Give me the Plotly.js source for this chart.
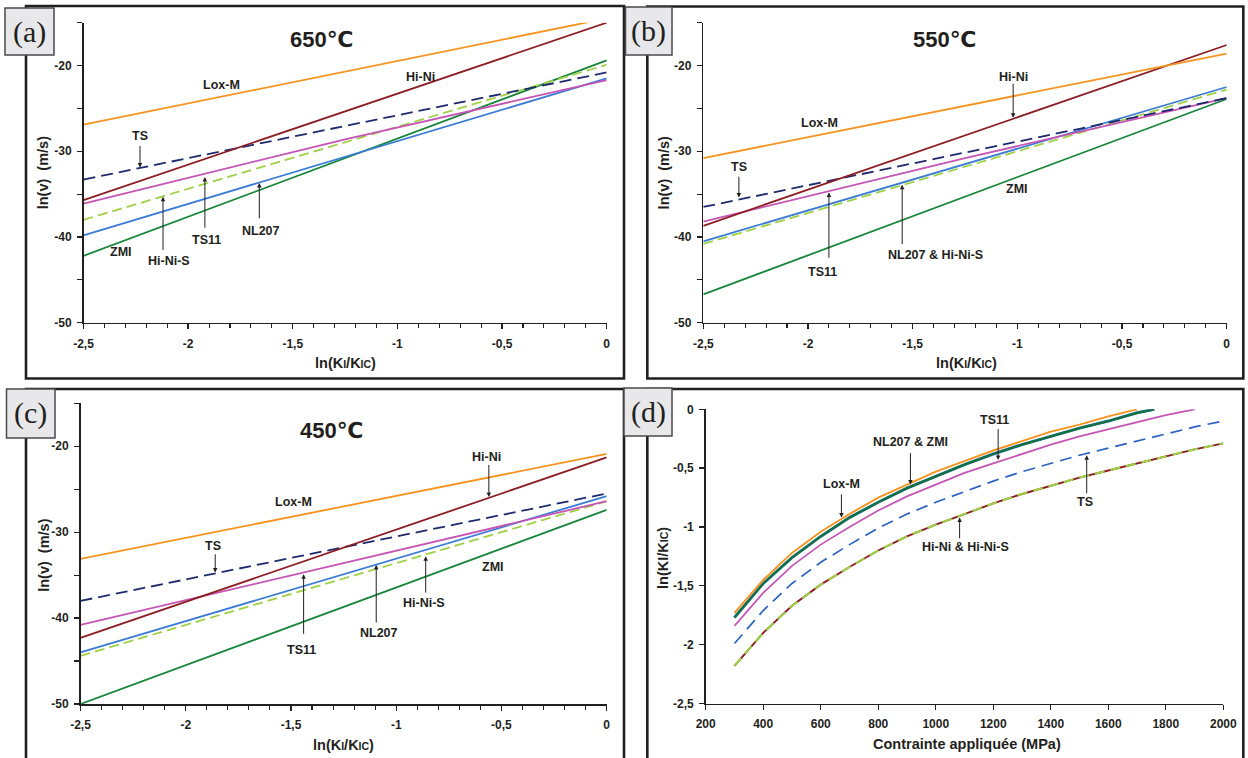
<!DOCTYPE html>
<html>
<head>
<meta charset="utf-8">
<script src="https://cdn.plot.ly/plotly-3.0.1.min.js"></script>
<style>html,body{margin:0;padding:0;background:#fff;}#chart{width:1248px;height:758px;}</style>
</head>
<body>
<div id="chart"></div>
<script>
// ---------- DATA ----------
// Panels (a)-(c): ln(v) vs ln(KI/KIC)
const lnK = [-2.5, -1.25, 0];

// (a) 650 °C
const a_LoxM  = [-26.9, -20.7, -14.5];
const a_HiNi  = [-35.7, -25.35, -15.0];
const a_TS    = [-33.3, -27.05, -20.8];
const a_TS11  = [-36.1, -28.6, -21.7];
const a_HiNiS = [-38.0, -28.95, -19.9];
const a_NL207 = [-39.8, -30.65, -21.5];
const a_ZMI   = [-42.2, -30.8, -19.4];

// (b) 550 °C
const b_LoxM  = [-30.8, -24.7, -18.6];
const b_HiNi  = [-38.7, -28.15, -17.6];
const b_TS    = [-36.5, -30.15, -23.8];
const b_TS11  = [-38.2, -30.8, -23.8];
const b_HiNiS = [-40.8, -31.8, -22.8];
const b_NL207 = [-40.5, -31.5, -22.5];
const b_ZMI   = [-46.7, -35.3, -23.9];

// (c) 450 °C
const c_LoxM  = [-33.1, -27.0, -20.9];
const c_HiNi  = [-42.3, -31.8, -21.3];
const c_TS    = [-38.0, -31.75, -25.5];
const c_TS11  = [-40.8, -33.6, -26.4];
const c_HiNiS = [-44.4, -35.4, -26.4];
const c_NL207 = [-44.0, -34.9, -25.8];
const c_ZMI   = [-50.0, -38.7, -27.4];

// (d) ln(KI/KIC) vs applied stress (MPa)
const d_stressLoxM = [300,400,500,600,700,800,900,1000,1100,1200,1300,1400,1500,1600,1700];
const d_LoxM       = [-1.73,-1.45,-1.22,-1.04,-0.89,-0.75,-0.64,-0.53,-0.44,-0.35,-0.27,-0.19,-0.13,-0.06,0];
const d_stressZMI  = [300,400,500,600,700,800,900,1000,1100,1200,1300,1400,1500,1600,1700,1760];
const d_ZMI        = [-1.77,-1.48,-1.26,-1.08,-0.92,-0.79,-0.67,-0.57,-0.47,-0.38,-0.30,-0.23,-0.16,-0.10,-0.03,0];
const d_NL207      = [-1.77,-1.48,-1.26,-1.08,-0.92,-0.79,-0.67,-0.57,-0.47,-0.38,-0.30,-0.23,-0.16,-0.10,-0.03,0];
const d_stressTS11 = [300,400,500,600,700,800,900,1000,1100,1200,1300,1400,1500,1600,1700,1800,1900];
const d_TS11       = [-1.84,-1.56,-1.33,-1.15,-1.00,-0.86,-0.74,-0.64,-0.54,-0.46,-0.38,-0.30,-0.23,-0.17,-0.11,-0.05,0];
const d_stress     = [300,400,500,600,700,800,900,1000,1100,1200,1300,1400,1500,1600,1700,1800,1900,2000];
const d_TS         = [-1.99,-1.71,-1.48,-1.30,-1.15,-1.01,-0.89,-0.79,-0.70,-0.61,-0.53,-0.46,-0.39,-0.33,-0.27,-0.21,-0.15,-0.10];
const d_HiNi       = [-2.18,-1.90,-1.67,-1.49,-1.34,-1.20,-1.08,-0.98,-0.89,-0.80,-0.72,-0.65,-0.58,-0.52,-0.46,-0.40,-0.34,-0.29];
const d_HiNiS      = [-2.18,-1.90,-1.67,-1.49,-1.34,-1.20,-1.08,-0.98,-0.89,-0.80,-0.72,-0.65,-0.58,-0.52,-0.46,-0.40,-0.34,-0.29];

// Tick labels
const kTickVals = [-2.5, -2, -1.5, -1, -0.5, 0];
const kTickText = ['-2,5', '-2', '-1,5', '-1', '-0,5', '0'];
const vTickVals = [-20, -30, -40, -50];
const vTickText = ['-20', '-30', '-40', '-50'];
const sTickVals = [200,400,600,800,1000,1200,1400,1600,1800,2000];
const sTickText = ['200','400','600','800','1000','1200','1400','1600','1800','2000'];
const dyTickVals = [0,-0.5,-1,-1.5,-2,-2.5];
const dyTickText = ['0','-0,5','-1','-1,5','-2','-2,5'];

const panelLabels = ['(a)', '(b)', '(c)', '(d)'];
const panelTitles = ['650℃', '550℃', '450℃'];

// ---------- STYLE ----------
const C = {
  LoxM: '#f7931e', HiNi: '#8c1c24', TS: '#1f2a6e', TS11: '#c654b4',
  NL207: '#3a7bd5', HiNiS: '#9fd046', ZMI: '#18863c', TSd: '#2c62c0'
};
const INK = '#231f20';
const FONT = 'Liberation Sans, Arial, DejaVu Sans, sans-serif';
const W = 1248, H = 758;
const PX = v => v / W;
const PY = v => 1 - v / H;

function line(x, y, color, xa, ya, dash, width) {
  return {x: x, y: y, type: 'scatter', mode: 'lines', xaxis: xa, yaxis: ya,
          line: {color: color, width: width || 1.8, dash: dash || 'solid'},
          hoverinfo: 'skip', showlegend: false};
}

const traces = [];
const sets = [
  {xa: 'x',  ya: 'y',  d: [a_ZMI, a_NL207, a_HiNiS, a_TS11, a_TS, a_HiNi, a_LoxM]},
  {xa: 'x2', ya: 'y2', d: [b_ZMI, b_NL207, b_HiNiS, b_TS11, b_TS, b_HiNi, b_LoxM]},
  {xa: 'x3', ya: 'y3', d: [c_ZMI, c_NL207, c_HiNiS, c_TS11, c_TS, c_HiNi, c_LoxM]}
];
sets.forEach(s => {
  const [zmi, nl, hns, ts11, ts, hn, lox] = s.d;
  traces.push(line(lnK, zmi, C.ZMI, s.xa, s.ya));
  traces.push(line(lnK, nl, C.NL207, s.xa, s.ya));
  traces.push(line(lnK, hns, C.HiNiS, s.xa, s.ya, '10px,5px'));
  traces.push(line(lnK, ts11, C.TS11, s.xa, s.ya));
  traces.push(line(lnK, ts, C.TS, s.xa, s.ya, '12px,6px'));
  traces.push(line(lnK, hn, C.HiNi, s.xa, s.ya));
  traces.push(line(lnK, lox, C.LoxM, s.xa, s.ya));
});
// (d)
traces.push(line(d_stress, d_HiNi, C.HiNi, 'x4', 'y4', 'solid', 1.9));
traces.push(line(d_stress, d_HiNiS, C.HiNiS, 'x4', 'y4', '10px,6px', 2.1));
traces.push(line(d_stress, d_TS, C.TSd, 'x4', 'y4', '12px,7px', 1.7));
traces.push(line(d_stressTS11, d_TS11, C.TS11, 'x4', 'y4', 'solid', 1.7));
traces.push(line(d_stressZMI, d_NL207, C.NL207, 'x4', 'y4', 'solid', 3));
traces.push(line(d_stressZMI, d_ZMI, '#12703a', 'x4', 'y4', 'solid', 2.3));
traces.push(line(d_stressLoxM, d_LoxM, C.LoxM, 'x4', 'y4', 'solid', 1.9));

// ---------- AXES ----------
const tickfont = {family: FONT, size: 12, color: INK, weight: 700};
function xK(domain, anchor) {
  return {domain: domain, anchor: anchor, range: [-2.5, 0], showline: true, linecolor: INK, linewidth: 1.5,
          showgrid: false, zeroline: false, ticks: 'outside', ticklen: 5, tickwidth: 1.3, tickcolor: INK,
          tickmode: 'array', tickvals: kTickVals, ticktext: kTickText, tickfont: tickfont, ticklabelstandoff: 4,
          minor: {dtick: 0.1, tick0: 0, ticks: 'outside', ticklen: 4, tickwidth: 1.1, tickcolor: INK, showgrid: false},
          fixedrange: true};
}
function yV(domain, anchor) {
  return {domain: domain, anchor: anchor, range: [-50, -15], showline: true, linecolor: INK, linewidth: 1.5,
          showgrid: false, zeroline: false, ticks: 'outside', ticklen: 5, tickwidth: 1.3, tickcolor: INK,
          tickmode: 'array', tickvals: vTickVals, ticktext: vTickText, tickfont: tickfont, ticklabelstandoff: 3,
          minor: {dtick: 5, tick0: 0, ticks: 'outside', ticklen: 5, tickwidth: 1.1, tickcolor: INK, showgrid: false},
          fixedrange: true};
}

const layout = {
  width: W, height: H, margin: {l: 0, r: 0, t: 0, b: 0},
  paper_bgcolor: '#ffffff', plot_bgcolor: 'rgba(0,0,0,0)', showlegend: false,
  xaxis:  xK([PX(83.5), PX(606.7)], 'y'),
  yaxis:  yV([PY(322.7), PY(22.7)], 'x'),
  xaxis2: xK([PX(703.3), PX(1226.7)], 'y2'),
  yaxis2: yV([PY(322.7), PY(22.7)], 'x2'),
  xaxis3: xK([PX(80.5), PX(606.7)], 'y3'),
  yaxis3: yV([PY(704), PY(403.3)], 'x3'),
  xaxis4: {domain: [PX(705.7), PX(1223.3)], anchor: 'y4', range: [200, 2000], showline: true, linecolor: INK, linewidth: 1.5,
           showgrid: false, zeroline: false, ticks: 'outside', ticklen: 5, tickwidth: 1.3, tickcolor: INK,
           tickmode: 'array', tickvals: sTickVals, ticktext: sTickText, tickfont: tickfont, ticklabelstandoff: 4, fixedrange: true},
  yaxis4: {domain: [PY(703.5), PY(409.3)], anchor: 'x4', range: [-2.5, 0], showline: true, linecolor: INK, linewidth: 1.5,
           showgrid: false, zeroline: false, ticks: 'outside', ticklen: 5, tickwidth: 1.3, tickcolor: INK,
           tickmode: 'array', tickvals: dyTickVals, ticktext: dyTickText, tickfont: tickfont, ticklabelstandoff: 3, fixedrange: true},
  shapes: [],
  annotations: []
};

// Frames
const frames = [[26, 624, 6, 378.5], [647.3, 1243.3, 6.5, 378.5], [26, 624, 389, 775], [647.3, 1243.3, 389, 775]];
frames.forEach(f => layout.shapes.push({type: 'rect', xref: 'paper', yref: 'paper',
  x0: PX(f[0]), x1: PX(f[1]), y0: PY(f[3]), y1: PY(f[2]), line: {color: INK, width: 2.6}, fillcolor: 'rgba(0,0,0,0)'}));

function paperText(px, py, text, font, angle) {
  layout.annotations.push({xref: 'paper', yref: 'paper', x: PX(px), y: PY(py), xanchor: 'center', yanchor: 'middle',
    text: text, textangle: angle || 0, showarrow: false, font: font});
}

// Label boxes
const boxes = [[5, 54, 8, 55], [625.5, 672, 7, 55], [6.5, 55, 389, 438], [624, 672, 388, 436]];
boxes.forEach((b, i) => {
  layout.shapes.push({type: 'rect', xref: 'paper', yref: 'paper',
    x0: PX(b[0]), x1: PX(b[1]), y0: PY(b[3]), y1: PY(b[2]), line: {color: '#4a4a4c', width: 1.5}, fillcolor: '#e8e8eb'});
  paperText((b[0] + b[1]) / 2, (b[2] + b[3]) / 2, panelLabels[i],
    {family: 'Liberation Serif, Times New Roman, serif', size: 30, color: INK});
});

// Titles
const titlePos = [[321.8, 40], [944.3, 40], [331.2, 430]];
titlePos.forEach((p, i) => paperText(p[0], p[1], panelTitles[i], {family: FONT, size: 22, color: INK, weight: 700}));

// Axis titles
const axFont = {family: FONT, size: 14.5, color: INK, weight: 700};
const small = s => '<span style="font-size:10.5px">' + s + '</span>';
const kTitle = 'ln(K' + small('I') + '/K' + small('IC') + ')';
const kTitleD = 'ln(KI/K' + small('IC') + ')';
const vTitle = 'ln(v)\u00a0\u00a0(m/s)';
[[42.6, 172.7, vTitle, -90], [345, 362.7, kTitle, 0],
 [663.7, 172.7, vTitle, -90], [966.5, 362.7, kTitle, 0],
 [43.8, 555, vTitle, -90], [343.6, 745, kTitle, 0],
 [663.7, 558.3, kTitleD, -90], [966.9, 744, 'Contrainte appliquée (MPa)', 0]
].forEach(t => paperText(t[0], t[1], t[2], axFont, t[3]));

// Curve labels
const lblFont = {family: FONT, size: 12.5, color: INK, weight: 700};
function lbl(xa, ya, x, y, text) {
  layout.annotations.push({xref: xa, yref: ya, x: x, y: y, xanchor: 'center', yanchor: 'middle',
    text: text, showarrow: false, font: lblFont});
}
function arrow(xa, ya, x, yTip, yTail) {
  layout.annotations.push({xref: xa, yref: ya, axref: xa, ayref: ya, x: x, y: yTip, ax: x, ay: yTail, text: '',
    showarrow: true, arrowhead: 2, arrowsize: 0.9, arrowwidth: 1, arrowcolor: INK, standoff: 0, startstandoff: 0});
}
// (a)
lbl('x', 'y', -1.84, -22.3, 'Lox-M');
lbl('x', 'y', -0.89, -21.3, 'Hi-Ni');
lbl('x', 'y', -2.23, -28.2, 'TS');      arrow('x', 'y', -2.23, -31.9, -29.2);
lbl('x', 'y', -1.91, -40.3, 'TS11');    arrow('x', 'y', -1.92, -33.0, -39.1);
lbl('x', 'y', -2.09, -42.8, 'Hi-Ni-S'); arrow('x', 'y', -2.12, -35.3, -41.7);
lbl('x', 'y', -1.65, -39.3, 'NL207');   arrow('x', 'y', -1.66, -33.7, -38.0);
lbl('x', 'y', -2.32, -41.8, 'ZMI');
// (b)
lbl('x2', 'y2', -1.945, -26.7, 'Lox-M');
lbl('x2', 'y2', -1.02, -21.3, 'Hi-Ni');  arrow('x2', 'y2', -1.02, -26.1, -21.95);
lbl('x2', 'y2', -2.33, -31.8, 'TS');     arrow('x2', 'y2', -2.33, -35.4, -32.8);
lbl('x2', 'y2', -1.93, -44.1, 'TS11');   arrow('x2', 'y2', -1.90, -34.8, -42.6);
lbl('x2', 'y2', -1.39, -42.1, 'NL207 &amp; Hi-Ni-S'); arrow('x2', 'y2', -1.55, -33.9, -41.0);
lbl('x2', 'y2', -1.0, -34.4, 'ZMI');
// (c)
lbl('x3', 'y3', -1.49, -26.5, 'Lox-M');
lbl('x3', 'y3', -0.57, -21.2, 'Hi-Ni');  arrow('x3', 'y3', -0.56, -25.9, -22.0);
lbl('x3', 'y3', -1.87, -31.6, 'TS');     arrow('x3', 'y3', -1.86, -34.7, -32.4);
lbl('x3', 'y3', -1.45, -43.7, 'TS11');   arrow('x3', 'y3', -1.44, -34.9, -42.0);
lbl('x3', 'y3', -1.08, -41.7, 'NL207');  arrow('x3', 'y3', -1.095, -33.8, -40.7);
lbl('x3', 'y3', -0.87, -38.2, 'Hi-Ni-S'); arrow('x3', 'y3', -0.86, -32.8, -37.2);
lbl('x3', 'y3', -0.54, -34.1, 'ZMI');
// (d)
lbl('x4', 'y4', 672, -0.636, 'Lox-M');            arrow('x4', 'y4', 672, -0.92, -0.71);
lbl('x4', 'y4', 912, -0.28, 'NL207 &amp; ZMI');   arrow('x4', 'y4', 912, -0.64, -0.36);
lbl('x4', 'y4', 1203, -0.09, 'TS11');             arrow('x4', 'y4', 1217, -0.43, -0.155);
lbl('x4', 'y4', 1518, -0.79, 'TS');               arrow('x4', 'y4', 1525, -0.39, -0.727);
lbl('x4', 'y4', 1103, -1.17, 'Hi-Ni &amp; Hi-Ni-S'); arrow('x4', 'y4', 1083, -0.92, -1.11);

Plotly.newPlot('chart', traces, layout, {staticPlot: true, displayModeBar: false});
</script>
</body>
</html>
